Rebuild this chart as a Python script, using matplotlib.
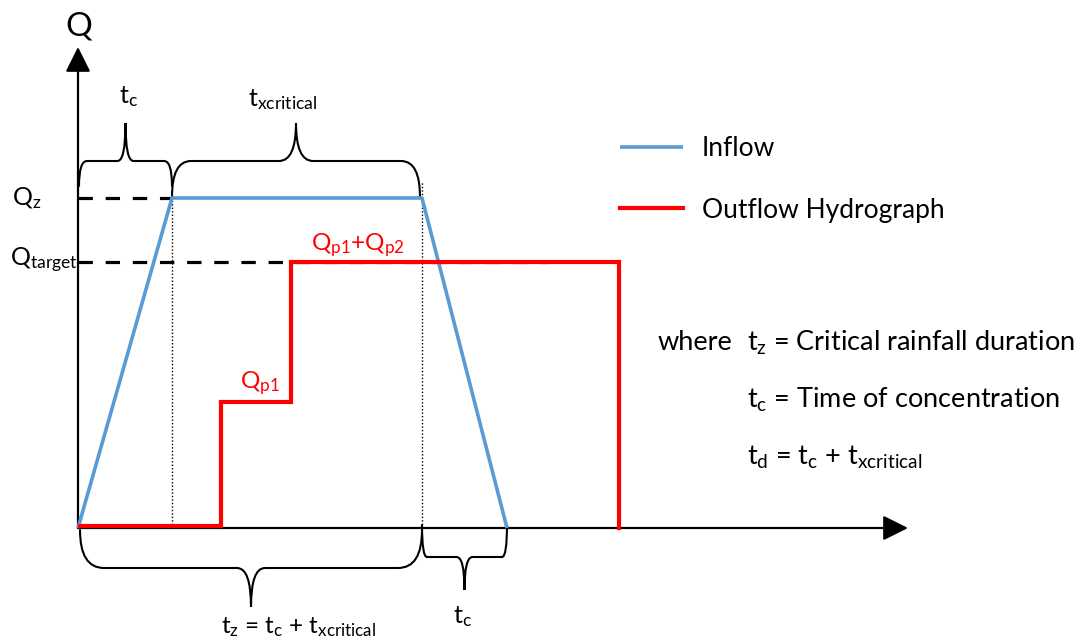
import matplotlib
matplotlib.use('Agg')
import matplotlib.pyplot as plt
from matplotlib.path import Path
from matplotlib.patches import PathPatch

plt.rcParams['font.family'] = ['Lato', 'DejaVu Sans']
plt.rcParams['mathtext.fontset'] = 'custom'
plt.rcParams['mathtext.rm'] = 'Lato'
plt.rcParams['mathtext.it'] = 'Lato'

# hydrograph data (time, discharge)
inflow_t = [0, 94, 344, 429]
inflow_q = [0, 330, 330, 0]
outflow_t = [2, 143, 143, 213, 213, 541, 541]
outflow_q = [2, 2, 126, 126, 266, 266, 0]
q_z = 330
q_target = 266

blue = '#5B9BD5'
red = '#FF0000'


def brace(ax, x0, x1, y_end, y_flat, y_tip, rx_end, rx_tip):
    xm = (x0 + x1) / 2
    verts = [(x0, y_end), (x0, y_flat), (x0 + rx_end, y_flat),
             (xm - rx_tip, y_flat), (xm, y_flat), (xm, y_tip),
             (xm, y_flat), (xm + rx_tip, y_flat),
             (x1 - rx_end, y_flat), (x1, y_flat), (x1, y_end)]
    codes = [Path.MOVETO, Path.CURVE3, Path.CURVE3,
             Path.LINETO, Path.CURVE3, Path.CURVE3,
             Path.CURVE3, Path.CURVE3,
             Path.LINETO, Path.CURVE3, Path.CURVE3]
    ax.add_patch(PathPatch(Path(verts, codes), fill=False, lw=1.5, color='black', capstyle='round'))


fig = plt.figure(figsize=(10.81, 6.41), dpi=100)
ax = fig.add_axes([0, 0, 1, 1])
ax.set_xlim(-78, 1003)
ax.set_ylim(-113, 528)
ax.axis('off')

# axes with arrow heads
arrow = dict(arrowstyle='-|>,head_length=0.9,head_width=0.45', color='black', lw=1.6,
             mutation_scale=17, shrinkA=0, shrinkB=0)
ax.annotate('', xy=(0, 481), xytext=(0, 0), arrowprops=arrow)
ax.annotate('', xy=(830, 0), xytext=(0, 0), arrowprops=arrow)

tc = inflow_t[1]
tz = inflow_t[2]
tend = inflow_t[3]

# reference levels
ax.plot([0, tc], [q_z, q_z], color='black', lw=2.3, dashes=(4.5, 4))
ax.plot([0, 470], [q_target, q_target], color='black', lw=2.3, dashes=(4.5, 4))
ax.plot([tc, tc], [0, q_z], color='black', lw=1, ls=(0, (1, 1.5)))
ax.plot([tz, tz], [0, 346], color='black', lw=1, ls=(0, (1, 1.5)))

inflow, = ax.plot(inflow_t, inflow_q, color=blue, lw=2.6, solid_capstyle='butt', zorder=4)
outflow, = ax.plot(outflow_t, outflow_q, color=red, lw=3, solid_joinstyle='miter', zorder=5)

# braces
brace(ax, 1, tc, 342, 367, 405, 8, 8)
brace(ax, tc, tz - 2, 331, 367, 405, 19, 17)
brace(ax, 2, tz, -2, -40, -79, 24, 14)
brace(ax, tz, tend, 3, -29, -62, 5, 8)

# labels
ax.text(1, 502, 'Q', fontsize=24, ha='center', va='center')
ax.text(-66, 330, r'$\mathregular{Q_z}$', fontsize=18, ha='left', va='center')
ax.text(-68, 268, r'$\mathregular{Q_{target}}$', fontsize=18, ha='left', va='center')
ax.text(51, 431, r'$\mathregular{t_c}$', fontsize=18, ha='center', va='center')
ax.text(205, 428, r'$\mathregular{t_{xcritical}}$', fontsize=18, ha='center', va='center')
ax.text(220, -99, r'$\mathregular{t_z}$ = $\mathregular{t_c}$ + $\mathregular{t_{xcritical}}$',
        fontsize=17.5, ha='center', va='center')
ax.text(385, -89, r'$\mathregular{t_c}$', fontsize=18, ha='center', va='center')
ax.text(182, 145, r'$\mathregular{Q_{p1}}$', fontsize=17.5, color=red, ha='center', va='center')
ax.text(280, 283, r'$\mathregular{Q_{p1}}$+$\mathregular{Q_{p2}}$', fontsize=17.5, color=red,
        ha='center', va='center')

ax.text(580, 185, 'where', fontsize=19.5, ha='left', va='center')
ax.text(669, 185, r'$\mathregular{t_z}$ = Critical rainfall duration', fontsize=19.5, ha='left', va='center')
ax.text(669, 128, r'$\mathregular{t_c}$ = Time of concentration', fontsize=19.5, ha='left', va='center')
ax.text(669, 71, r'$\mathregular{t_d}$ = $\mathregular{t_c}$ + $\mathregular{t_{xcritical}}$',
        fontsize=19.5, ha='left', va='center')

ax.legend([inflow, outflow], ['Inflow', 'Outflow Hydrograph'], loc='upper left',
          bbox_to_anchor=(620 / 1081, 1 - 136 / 641), frameon=False, fontsize=19,
          handlelength=2.39, handletextpad=0.72, labelspacing=1.39, borderpad=0, borderaxespad=0)

fig.savefig('out.png', dpi=100)
